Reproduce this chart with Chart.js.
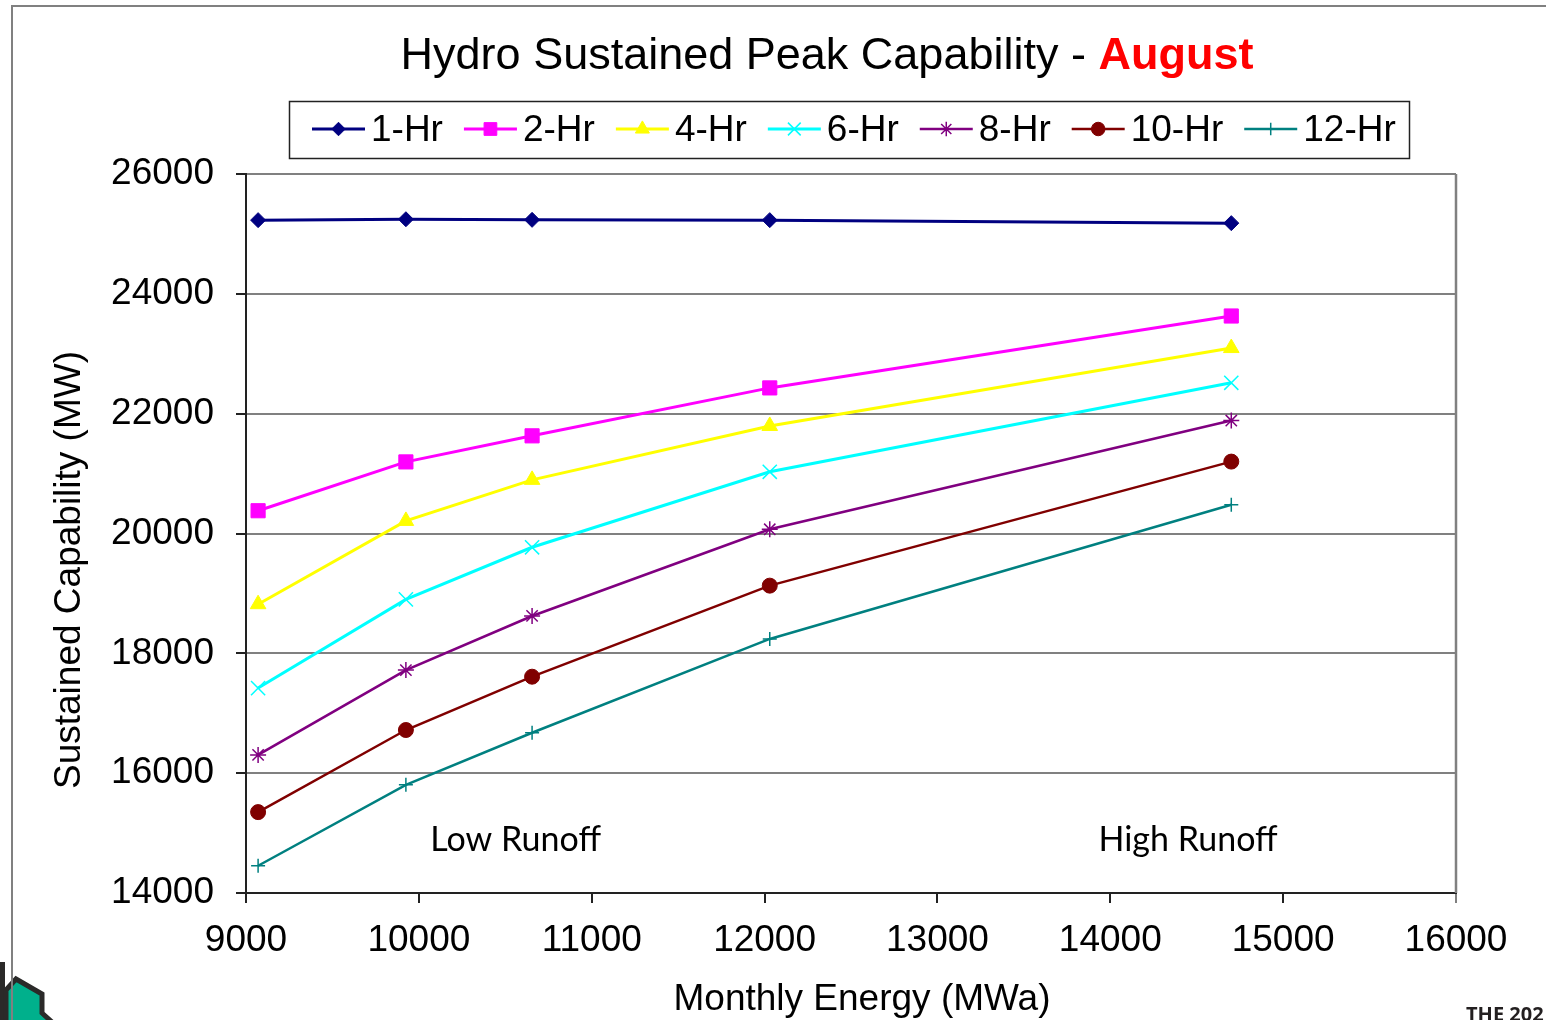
<!DOCTYPE html>
<html>
<head>
<meta charset="utf-8">
<title>Hydro Sustained Peak Capability - August</title>
<script src="https://cdn.jsdelivr.net/npm/chart.js@4.4.1/dist/chart.umd.min.js"></script>
<style>
    html, body { margin: 0; padding: 0; background: #fff; overflow: hidden; }
    #wrap { position: relative; width: 1546px; height: 1020px; overflow: hidden; }
    #logo { position: absolute; left: 0; top: 950px; }
    #chart { position: absolute; left: 0; top: 0; }
    #footer {
        position: absolute; left: 1466px; top: 1004px;
        font: bold 20px 'Open Sans', sans-serif; line-height: 20px;
        color: #231f20; white-space: nowrap;
    }
</style>
</head>
<body>
<div id="wrap">
    <svg id="logo" width="70" height="70" viewBox="0 0 70 70">
        <rect x="0" y="12" width="5" height="60" fill="#2b2a29"></rect>
        <polygon points="6,40 16,29 42,44 42,63 53,73 6,73" fill="#00b08c" stroke="#2b2a29" stroke-width="5"></polygon>
    </svg>
    <canvas id="chart" width="1546" height="1020"></canvas>
    <div id="footer">THE 202</div>
</div>
<script>
// ========================================
// データ
// ========================================

// 月間エネルギー (MWa) - X軸
const energy = [9070, 9925, 10655, 12030, 14700];

// 持続容量 (MW) - 各シリーズ
const hr1  = [25230, 25245, 25235, 25230, 25180];
const hr2  = [20380, 21195, 21630, 22430, 23630];
const hr4  = [18820, 20210, 20895, 21795, 23095];
const hr6  = [17420, 18900, 19770, 21030, 22515];
const hr8  = [16305, 17720, 18625, 20070, 21885];
const hr10 = [15350, 16720, 17610, 19130, 21200];
const hr12 = [14455, 15805, 16675, 18240, 20480];

const seriesNames = ['1-Hr', '2-Hr', '4-Hr', '6-Hr', '8-Hr', '10-Hr', '12-Hr'];
const seriesValues = [hr1, hr2, hr4, hr6, hr8, hr10, hr12];

// 軸の目盛り
const xMin = 9000, xMax = 16000, xStep = 1000;
const yMin = 14000, yMax = 26000, yStep = 2000;

// テキスト
const titleMain = 'Hydro Sustained Peak Capability - ';
const titleMonth = 'August';
const xTitle = 'Monthly Energy (MWa)';
const yTitle = 'Sustained Capability (MW)';
const notes = [
    { text: 'Low Runoff', x: 10560, y: 14700 },
    { text: 'High Runoff', x: 14450, y: 14700 }
];

// ========================================
// スタイル
// ========================================

const FONT = "'Liberation Sans', Arial, sans-serif";
const seriesStyles = [
    { color: '#000080', point: 'rectRot',  radius: 7.5, width: 3,   pbw: 1 },
    { color: '#ff00ff', point: 'rect',     radius: 10,  width: 3,   pbw: 1 },
    { color: '#ffff00', point: 'triangle', radius: 9,   width: 3,   pbw: 1 },
    { color: '#00ffff', point: 'crossRot', radius: 10,  width: 3,   pbw: 1.5 },
    { color: '#800080', point: 'star',     radius: 8,   width: 2.7, pbw: 1.5 },
    { color: '#800000', point: 'circle',   radius: 7.5, width: 2.5, pbw: 1 },
    { color: '#008080', point: 'cross',    radius: 7,   width: 2.5, pbw: 1.5 }
];

// ========================================
// 装飾プラグイン (タイトル・凡例・軸タイトル・注記)
// ========================================

const decorPlugin = {
    id: 'decor',
    beforeDatasetsDraw(chart) {
        const ctx = chart.ctx;
        const area = chart.chartArea;
        ctx.save();
        // 外枠
        ctx.strokeStyle = '#808080';
        ctx.lineWidth = 2;
        ctx.beginPath();
        ctx.moveTo(12, 1020);
        ctx.lineTo(12, 6);
        ctx.lineTo(1546, 6);
        ctx.stroke();
        // プロット領域の右枠
        ctx.lineWidth = 2.5;
        ctx.beginPath();
        ctx.moveTo(area.right, area.top);
        ctx.lineTo(area.right, area.bottom);
        ctx.stroke();
        ctx.restore();
    },
    afterDraw(chart) {
        const ctx = chart.ctx;
        const xs = chart.scales.x;
        const ys = chart.scales.y;
        ctx.save();

        // タイトル
        ctx.textBaseline = 'alphabetic';
        ctx.textAlign = 'left';
        ctx.font = `45px ${FONT}`;
        const w1 = ctx.measureText(titleMain).width;
        ctx.font = `bold 45px ${FONT}`;
        const w2 = ctx.measureText(titleMonth).width;
        const tx = 827 - (w1 + w2) / 2;
        ctx.font = `45px ${FONT}`;
        ctx.fillStyle = '#000';
        ctx.fillText(titleMain, tx, 69);
        ctx.font = `bold 45px ${FONT}`;
        ctx.fillStyle = '#ff0000';
        ctx.fillText(titleMonth, tx + w1, 69);

        // 凡例
        ctx.strokeStyle = '#222';
        ctx.lineWidth = 1.5;
        ctx.strokeRect(289.5, 101.5, 1120, 57);
        ctx.font = `37px ${FONT}`;
        let lx = 312;
        const ly = 129;
        chart.data.datasets.forEach((ds, i) => {
            const st = seriesStyles[i];
            ctx.strokeStyle = st.color;
            ctx.lineWidth = st.width;
            ctx.beginPath();
            ctx.moveTo(lx, ly);
            ctx.lineTo(lx + 53, ly);
            ctx.stroke();
            ctx.fillStyle = st.color;
            ctx.lineWidth = st.pbw;
            Chart.helpers.drawPoint(ctx, {
                pointStyle: st.point, radius: st.radius * 0.9, rotation: 0, borderWidth: st.pbw
            }, lx + 26.5, ly);
            ctx.fillStyle = '#000';
            ctx.fillText(ds.label, lx + 59, 141);
            lx += 59 + ctx.measureText(ds.label).width + 21;
        });

        // 軸タイトル
        ctx.font = `37px ${FONT}`;
        ctx.fillStyle = '#000';
        ctx.textAlign = 'center';
        ctx.textBaseline = 'middle';
        ctx.fillText(xTitle, 862, 1000);
        ctx.save();
        ctx.translate(70, 570);
        ctx.rotate(-Math.PI / 2);
        ctx.fillText(yTitle, 0, 0);
        ctx.restore();

        // 注記
        ctx.font = "34px Lato, 'Open Sans', sans-serif";
        ctx.textBaseline = 'alphabetic';
        notes.forEach(n => {
            ctx.fillText(n.text, xs.getPixelForValue(n.x), ys.getPixelForValue(n.y));
        });

        ctx.restore();
    }
};

// ========================================
// チャート
// ========================================

const datasets = seriesNames.map((name, i) => {
    const st = seriesStyles[i];
    return {
        label: name,
        data: energy.map((x, j) => ({ x: x, y: seriesValues[i][j] })),
        borderColor: st.color,
        backgroundColor: st.color,
        borderWidth: st.width,
        pointStyle: st.point,
        pointRadius: st.radius,
        pointBorderWidth: st.pbw,
        pointBackgroundColor: st.color,
        pointBorderColor: st.color,
        tension: 0,
        fill: false
    };
});

new Chart(document.getElementById('chart'), {
    type: 'line',
    data: { datasets: datasets },
    plugins: [decorPlugin],
    options: {
        responsive: false,
        animation: false,
        layout: { padding: { top: 174, right: 90, left: 0, bottom: 0 } },
        plugins: {
            legend: { display: false },
            title: { display: false },
            tooltip: { enabled: false }
        },
        scales: {
            x: {
                type: 'linear',
                min: xMin,
                max: xMax,
                ticks: {
                    stepSize: xStep,
                    color: '#000',
                    font: { family: FONT, size: 37 },
                    padding: 16,
                    maxRotation: 0,
                    callback: v => String(v)
                },
                grid: {
                    drawOnChartArea: false,
                    tickLength: 10,
                    lineWidth: 2,
                    color: c => (c.tick && c.tick.value === xMax) ? '#808080' : '#222',
                    tickColor: c => (c.tick && c.tick.value === xMax) ? '#808080' : '#222'
                },
                border: { display: true, color: '#222', width: 2 },
                afterFit(scale) { scale.height = 127; }
            },
            y: {
                min: yMin,
                max: yMax,
                ticks: {
                    stepSize: yStep,
                    color: '#000',
                    font: { family: FONT, size: 37 },
                    padding: 22,
                    callback: v => String(v)
                },
                grid: {
                    tickLength: 10,
                    lineWidth: 2,
                    color: c => (c.tick && c.tick.value === yMin) ? 'rgba(0,0,0,0)' : '#808080',
                    tickColor: '#222'
                },
                border: { display: true, color: '#222', width: 2 },
                afterFit(scale) { scale.width = 246; }
            }
        }
    }
});
</script>
</body>
</html>
